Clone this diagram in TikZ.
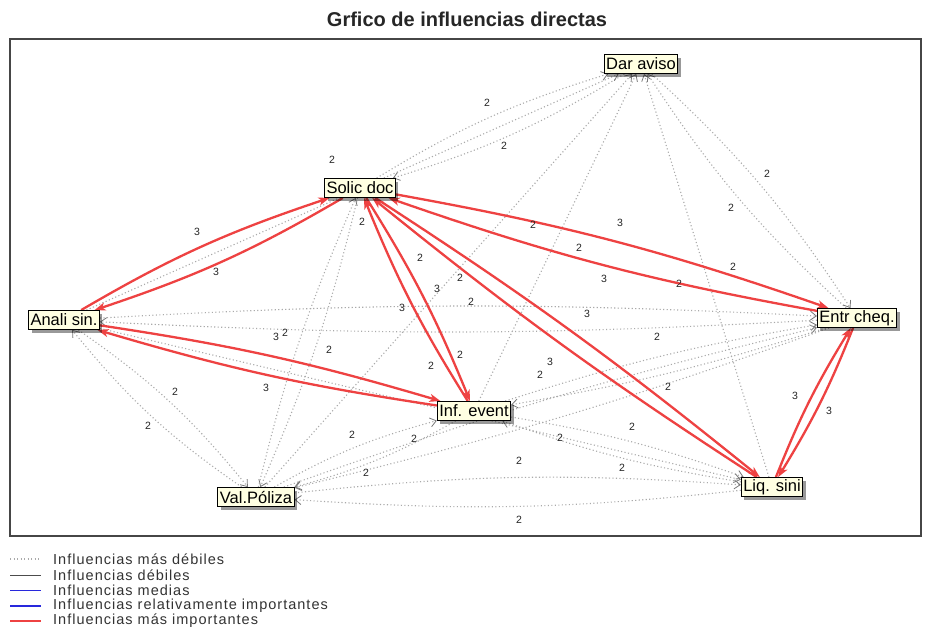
\documentclass[tikz,border=0pt]{standalone}
\usepackage{fontspec}
\setmainfont{Liberation Sans}
\newfontfamily\legfont[LetterSpace=7]{Liberation Sans}
\usetikzlibrary{arrows.meta,shadows,bending}
\definecolor{redline}{RGB}{238,66,66}
\definecolor{dotgray}{RGB}{170,170,170}
\definecolor{tipgray}{RGB}{120,120,120}
\definecolor{boxfill}{RGB}{255,255,226}
\definecolor{frameg}{RGB}{70,70,70}
\definecolor{bluel}{RGB}{40,40,220}
\pgfdeclarelayer{bg}
\pgfdeclarelayer{edges}
\pgfsetlayers{bg,edges,main}
\begin{document}
\begin{tikzpicture}[x=1pt,y=-1pt,
  nodebox/.style={draw=black, line width=0.9pt, fill=boxfill,
    font=\fontsize{16.5}{18}\selectfont, inner xsep=2pt, inner ysep=1pt,
    minimum height=19pt,
    drop shadow={shadow xshift=3pt,shadow yshift=-3pt,fill=black,opacity=0.4}},
  redarrow/.style={draw=redline, line width=2.3pt,
    -{Stealth[length=11pt,width=8pt,inset=3pt]}, bend left=#1},
  redarrow/.default=0,
  dotarrow/.style={draw=dotgray, line width=1.1pt, dash pattern=on 1.1pt off 2.4pt,
    -{Straight Barb[length=6pt,width=9pt,line width=0.8pt,color=tipgray]}, bend left=#1},
  dotarrow/.default=0,
  lbl/.style={font=\fontsize{10.5}{12}\selectfont, inner sep=0pt, text=black!85},
  legtxt/.style={font=\legfont\fontsize{14.5}{16}\selectfont, anchor=west, inner sep=0pt, text=black!80},
]
\begin{pgfonlayer}{bg}
  \fill[white] (0,0) rectangle (933,642);
\end{pgfonlayer}
\useasboundingbox (0,0) rectangle (933,642);

% title and frame
\node[font=\bfseries\fontsize{20}{23}\selectfont, text=black!85] (title) at (467,19) {Grfico de influencias directas};
\draw[frameg, line width=1.4pt] (10,39) rectangle (921,536);

% nodes
\node[nodebox] (D) at (641,64) {Dar aviso};
\node[nodebox] (S) at (360,188) {Solic doc};
\node[nodebox] (A) at (64,320) {Anali sin.};
\node[nodebox] (E) at (857,318) {Entr cheq.};
\node[nodebox] (I) at (474,411) {Inf. event};
\node[nodebox] (V) at (256,497) {Val.Póliza};
\node[nodebox] (L) at (772,487) {Liq. sini};

\begin{pgfonlayer}{edges}
  % weak (dotted) influences
  \draw[dotarrow=7] (S) to (D);  \draw[dotarrow=7] (D) to (S);
  \draw[dotarrow=7] (E) to (D);  \draw[dotarrow=7] (D) to (E);
  \draw[dotarrow=3] (A) to (E);  \draw[dotarrow=3] (E) to (A);
  \draw[dotarrow=5] (V) to (L);  \draw[dotarrow=5] (L) to (V);
  \draw[dotarrow=5] (I) to (L);  \draw[dotarrow=5] (L) to (I);
  \draw[dotarrow=7] (I) to (V);  \draw[dotarrow=7] (V) to (I);
  \draw[dotarrow=8] (A) to (V);  \draw[dotarrow=8] (V) to (A);
  \draw[dotarrow=5] (S) to (V);  \draw[dotarrow=5] (V) to (S);
  \draw[dotarrow=3] (V) to (E);  \draw[dotarrow=3] (E) to (V);
  \draw[dotarrow=4] (I) to (E);  \draw[dotarrow=4] (E) to (I);
  \draw[dotarrow] (A) to (D);
  \draw[dotarrow] (V) to (D);
  \draw[dotarrow] (I) to (D);
  \draw[dotarrow] (L) to (D);
  \draw[dotarrow] (A) to (L);
  % strongest influences
  \draw[redarrow=6] (A) to (S); \draw[redarrow=6] (S) to (A);
  \draw[redarrow=5] (S) to (I); \draw[redarrow=5] (I) to (S);
  \draw[redarrow=3] (S) to (L); \draw[redarrow=3] (L) to (S);
  \draw[redarrow=4.5] (S) to (E); \draw[redarrow=4.5] (E) to (S);
  \draw[redarrow=4] (A) to (I); \draw[redarrow=4] (I) to (A);
  \draw[redarrow=5] (E) to (L); \draw[redarrow=5] (L) to (E);
\end{pgfonlayer}

% value labels
\foreach \x/\y/\t [count=\i] in {
  487/103/2, 504/146/2, 332/160/2, 767/174/2, 731/208/2, 362/222/2,
  533/225/2, 620/223/3, 197/232/3, 579/248/2, 420/258/2, 733/267/2,
  216/272/3, 460/278/2, 604/279/3, 679/284/2, 437/289/3, 471/302/2,
  402/308/3, 587/314/3, 276/337/3, 285/333/2, 657/337/2, 329/350/2,
  460/355/2, 550/362/3, 431/366/2, 540/375/2, 266/388/3, 668/387/2,
  175/392/2, 795/396/3, 829/411/3, 148/426/2, 632/427/2, 352/435/2,
  414/439/2, 560/438/2, 519/461/2, 622/468/2, 366/473/2, 519/520/2}
  \node[lbl] (val\i) at (\x,\y) {\t};

% legend
\draw[dotgray, dash pattern=on 1.1pt off 2.4pt, line width=1.1pt] (10,559) -- (41,559);
\draw[black!70, line width=0.8pt] (10,575) -- (41,575);
\draw[bluel, line width=0.8pt] (10,590) -- (41,590);
\draw[bluel, line width=2pt] (10,606) -- (41,606);
\draw[redline, line width=2.4pt] (10,621) -- (41,621);
\node[legtxt] (lg1) at (53,559) {Influencias más débiles};
\node[legtxt] (lg2) at (53,575) {Influencias débiles};
\node[legtxt] (lg3) at (53,590) {Influencias medias};
\node[legtxt] (lg4) at (53,606) {Influencias relativamente importantes};
\node[legtxt] (lg5) at (53,621) {Influencias más importantes};
\end{tikzpicture}
\end{document}
